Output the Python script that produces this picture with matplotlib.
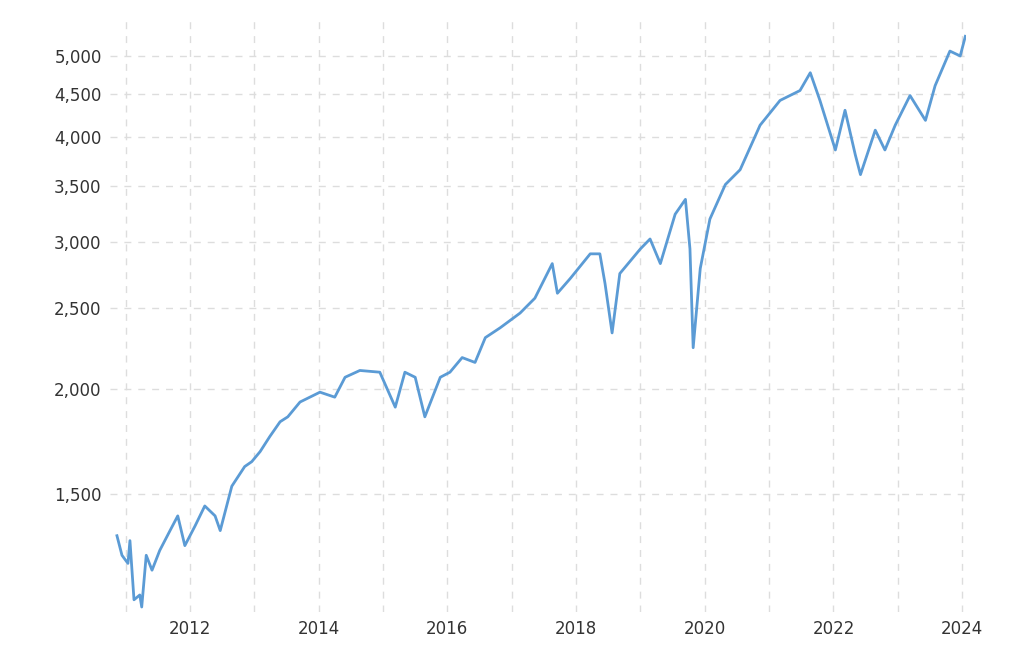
import matplotlib
matplotlib.use("Agg")
import matplotlib.pyplot as plt
from matplotlib.ticker import FixedLocator, FuncFormatter, NullLocator

years = [2010.865,2010.943,2011.036,2011.067,2011.13,2011.22,2011.25,2011.32,2011.41,2011.53,2011.69,2011.81,
         2011.92,2012.08,2012.23,2012.39,2012.47,2012.65,2012.85,2012.96,2013.09,2013.24,2013.40,2013.52,
         2013.71,2014.02,2014.25,2014.41,2014.64,2014.95,2015.19,2015.34,2015.50,2015.65,2015.89,2016.04,
         2016.23,2016.43,2016.59,2016.82,2017.13,2017.36,2017.63,2017.71,2017.91,2018.22,2018.37,2018.45,
         2018.56,2018.68,2019.00,2019.15,2019.31,2019.54,2019.70,2019.77,2019.82,2019.93,2020.08,2020.32,
         2020.55,2020.86,2021.17,2021.48,2021.64,2021.79,2022.03,2022.18,2022.34,2022.42,2022.65,2022.80,
         2022.96,2023.19,2023.43,2023.58,2023.81,2023.97,2024.05]
values = [1338,1268,1240,1320,1122,1137,1100,1268,1217,1285,1357,1413,
          1302,1375,1452,1413,1357,1533,1618,1640,1686,1757,1830,1855,
          1932,1985,1958,2068,2107,2097,1905,2097,2068,1855,2068,2097,
          2183,2154,2306,2369,2467,2570,2826,2605,2713,2903,2903,2676,
          2336,2750,2943,3024,2826,3237,3372,2943,2243,2788,3194,3512,
          3658,4134,4425,4547,4775,4425,3862,4307,3810,3609,4078,3862,
          4134,4485,4189,4608,5068,5000,5278]

fig = plt.figure(figsize=(10.24, 6.46), dpi=100)
ax = fig.add_axes([110/1024, 34/646, 856/1024, 594/646])
ax.plot(years, values, color="#5b9bd5", lw=2)
ax.set_yscale("log")
ax.set_ylim(1085, 5550)
ax.set_xlim(2010.757, 2024.06)
ax.yaxis.set_major_locator(FixedLocator([1500,2000,2500,3000,3500,4000,4500,5000]))
ax.yaxis.set_minor_locator(NullLocator())
ax.yaxis.set_major_formatter(FuncFormatter(lambda v, p: f"{int(v):,}"))
ax.set_xticks(range(2012, 2025, 2))
ax.set_xticks(range(2011, 2025, 2), minor=True)
ax.grid(True, which="both", axis="x", color="#dddddd", ls=(0, (5, 5)), lw=1)
ax.grid(True, which="major", axis="y", color="#dddddd", ls=(0, (5, 5)), lw=1)
for s in ax.spines.values():
    s.set_visible(False)
ax.tick_params(length=0, labelsize=12, colors="#333333", pad=6)
ax.tick_params(which="minor", length=0)
fig.savefig("out.png")
